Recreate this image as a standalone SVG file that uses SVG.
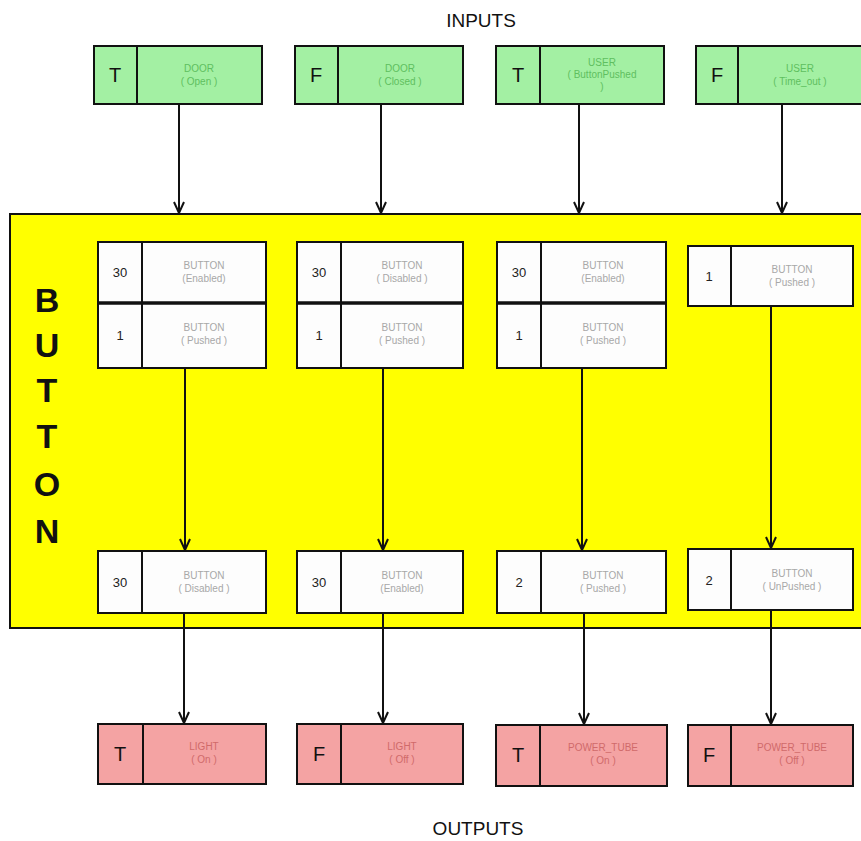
<svg xmlns="http://www.w3.org/2000/svg" width="861" height="841" viewBox="0 0 861 841">
  <style>
    .box { stroke: #111; stroke-width: 2; }
    .in { fill: #a3f0a3; }
    .out { fill: #f4a3a3; }
    .st { fill: #fdfdfd; }
    .div { stroke: #111; stroke-width: 2; }
    .sep { stroke: #111; stroke-width: 3.5; }
    .flag { font-family: "Liberation Sans", Arial, sans-serif; font-size: 20px; text-anchor: middle; fill: #111; }
    .num { font-family: "Liberation Sans", Arial, sans-serif; font-size: 13px; text-anchor: middle; fill: #222; }
    .lbl { font-family: "Liberation Sans", Arial, sans-serif; font-size: 10px; text-anchor: middle; }
    .lin { fill: #5fbf5f; }
    .lst { fill: #a8a8a8; }
    .lout { fill: #d06a6a; }
    .title { font-family: "Liberation Sans", Arial, sans-serif; font-size: 19px; text-anchor: middle; fill: #111; }
    .big { font-family: "Liberation Sans", Arial, sans-serif; font-size: 34px; font-weight: bold; text-anchor: middle; fill: #111; }
    .wire { stroke: #111; stroke-width: 2; fill: none; marker-end: url(#arrow); }
  </style>
  <defs>
    <marker id="arrow" markerWidth="14" markerHeight="14" refX="12" refY="6" orient="auto" markerUnits="userSpaceOnUse">
      <path d="M1,1 L12,6 L1,11" fill="none" stroke="#111" stroke-width="2"/>
    </marker>
  </defs>
  <rect width="861" height="841" fill="#ffffff"/>

  <!-- titles -->
  <text class="title" x="481" y="27">INPUTS</text>
  <text class="title" x="478" y="835">OUTPUTS</text>

  <!-- machine area -->
  <g id="machine">
    <rect x="10" y="214" width="860" height="414" fill="#ffff00" stroke="#111" stroke-width="2"/>
    <text class="big" x="47" y="312">B</text>
    <text class="big" x="47" y="357">U</text>
    <text class="big" x="47" y="402">T</text>
    <text class="big" x="47" y="448">T</text>
    <text class="big" x="47" y="496">O</text>
    <text class="big" x="47" y="543">N</text>
  </g>

  <!-- inputs -->
  <g id="in-door-open">
    <rect class="box in" x="94" y="46" width="168" height="58"/>
    <line class="div" x1="137" y1="46" x2="137" y2="104"/>
    <text class="flag" x="115" y="82">T</text>
    <text class="lbl lin" x="199" y="72">DOOR</text>
    <text class="lbl lin" x="199" y="85">( Open )</text>
  </g>
  <g id="in-door-closed">
    <rect class="box in" x="295" y="46" width="168" height="58"/>
    <line class="div" x1="338" y1="46" x2="338" y2="104"/>
    <text class="flag" x="316" y="82">F</text>
    <text class="lbl lin" x="400" y="72">DOOR</text>
    <text class="lbl lin" x="400" y="85">( Closed )</text>
  </g>
  <g id="in-user-pushed">
    <rect class="box in" x="496" y="46" width="168" height="58"/>
    <line class="div" x1="540" y1="46" x2="540" y2="104"/>
    <text class="flag" x="518" y="82">T</text>
    <text class="lbl lin" x="602" y="66">USER</text>
    <text class="lbl lin" x="602" y="78">( ButtonPushed</text>
    <text class="lbl lin" x="602" y="90">)</text>
  </g>
  <g id="in-user-timeout">
    <rect class="box in" x="696" y="46" width="168" height="58"/>
    <line class="div" x1="738" y1="46" x2="738" y2="104"/>
    <text class="flag" x="717" y="82">F</text>
    <text class="lbl lin" x="800" y="72">USER</text>
    <text class="lbl lin" x="800" y="85">( Time_out )</text>
  </g>

  <!-- upper states -->
  <g id="st-a">
    <rect class="box st" x="98" y="242" width="168" height="126"/>
    <line class="div" x1="142" y1="242" x2="142" y2="368"/>
    <line class="sep" x1="98" y1="303" x2="266" y2="303"/>
    <text class="num" x="120" y="277">30</text>
    <text class="lbl lst" x="204" y="269">BUTTON</text>
    <text class="lbl lst" x="204" y="282">(Enabled)</text>
    <text class="num" x="120" y="340">1</text>
    <text class="lbl lst" x="204" y="331">BUTTON</text>
    <text class="lbl lst" x="204" y="344">( Pushed )</text>
  </g>
  <g id="st-b">
    <rect class="box st" x="297" y="242" width="166" height="126"/>
    <line class="div" x1="341" y1="242" x2="341" y2="368"/>
    <line class="sep" x1="297" y1="303" x2="463" y2="303"/>
    <text class="num" x="319" y="277">30</text>
    <text class="lbl lst" x="402" y="269">BUTTON</text>
    <text class="lbl lst" x="402" y="282">( Disabled )</text>
    <text class="num" x="319" y="340">1</text>
    <text class="lbl lst" x="402" y="331">BUTTON</text>
    <text class="lbl lst" x="402" y="344">( Pushed )</text>
  </g>
  <g id="st-c">
    <rect class="box st" x="497" y="242" width="169" height="126"/>
    <line class="div" x1="541" y1="242" x2="541" y2="368"/>
    <line class="sep" x1="497" y1="303" x2="666" y2="303"/>
    <text class="num" x="519" y="277">30</text>
    <text class="lbl lst" x="603" y="269">BUTTON</text>
    <text class="lbl lst" x="603" y="282">(Enabled)</text>
    <text class="num" x="519" y="340">1</text>
    <text class="lbl lst" x="603" y="331">BUTTON</text>
    <text class="lbl lst" x="603" y="344">( Pushed )</text>
  </g>
  <g id="st-d">
    <rect class="box st" x="688" y="246" width="165" height="60"/>
    <line class="div" x1="731" y1="246" x2="731" y2="306"/>
    <text class="num" x="709" y="281">1</text>
    <text class="lbl lst" x="792" y="273">BUTTON</text>
    <text class="lbl lst" x="792" y="286">( Pushed )</text>
  </g>

  <!-- lower states -->
  <g id="st-e">
    <rect class="box st" x="98" y="551" width="168" height="62"/>
    <line class="div" x1="142" y1="551" x2="142" y2="613"/>
    <text class="num" x="120" y="587">30</text>
    <text class="lbl lst" x="204" y="579">BUTTON</text>
    <text class="lbl lst" x="204" y="592">( Disabled )</text>
  </g>
  <g id="st-f">
    <rect class="box st" x="297" y="551" width="166" height="62"/>
    <line class="div" x1="341" y1="551" x2="341" y2="613"/>
    <text class="num" x="319" y="587">30</text>
    <text class="lbl lst" x="402" y="579">BUTTON</text>
    <text class="lbl lst" x="402" y="592">(Enabled)</text>
  </g>
  <g id="st-g">
    <rect class="box st" x="497" y="551" width="169" height="62"/>
    <line class="div" x1="541" y1="551" x2="541" y2="613"/>
    <text class="num" x="519" y="587">2</text>
    <text class="lbl lst" x="603" y="579">BUTTON</text>
    <text class="lbl lst" x="603" y="592">( Pushed )</text>
  </g>
  <g id="st-h">
    <rect class="box st" x="688" y="549" width="165" height="61"/>
    <line class="div" x1="731" y1="549" x2="731" y2="610"/>
    <text class="num" x="709" y="585">2</text>
    <text class="lbl lst" x="792" y="577">BUTTON</text>
    <text class="lbl lst" x="792" y="590">( UnPushed )</text>
  </g>

  <!-- outputs -->
  <g id="out-light-on">
    <rect class="box out" x="98" y="724" width="168" height="60"/>
    <line class="div" x1="143" y1="724" x2="143" y2="784"/>
    <text class="flag" x="120" y="761">T</text>
    <text class="lbl lout" x="204" y="750">LIGHT</text>
    <text class="lbl lout" x="204" y="763">( On )</text>
  </g>
  <g id="out-light-off">
    <rect class="box out" x="297" y="724" width="166" height="60"/>
    <line class="div" x1="341" y1="724" x2="341" y2="784"/>
    <text class="flag" x="319" y="761">F</text>
    <text class="lbl lout" x="402" y="750">LIGHT</text>
    <text class="lbl lout" x="402" y="763">( Off )</text>
  </g>
  <g id="out-tube-on">
    <rect class="box out" x="496" y="725" width="171" height="61"/>
    <line class="div" x1="540" y1="725" x2="540" y2="786"/>
    <text class="flag" x="518" y="762">T</text>
    <text class="lbl lout" x="603" y="751">POWER_TUBE</text>
    <text class="lbl lout" x="603" y="764">( On )</text>
  </g>
  <g id="out-tube-off">
    <rect class="box out" x="688" y="725" width="165" height="61"/>
    <line class="div" x1="731" y1="725" x2="731" y2="786"/>
    <text class="flag" x="709" y="762">F</text>
    <text class="lbl lout" x="792" y="751">POWER_TUBE</text>
    <text class="lbl lout" x="792" y="764">( Off )</text>
  </g>

  <!-- transitions -->
  <g id="connectors">
    <line class="wire" x1="179" y1="105" x2="179" y2="213"/>
    <line class="wire" x1="381" y1="105" x2="381" y2="213"/>
    <line class="wire" x1="579" y1="105" x2="579" y2="213"/>
    <line class="wire" x1="782" y1="105" x2="782" y2="213"/>

    <line class="wire" x1="185" y1="369" x2="185" y2="550"/>
    <line class="wire" x1="383" y1="369" x2="383" y2="550"/>
    <line class="wire" x1="582" y1="369" x2="582" y2="550"/>
    <line class="wire" x1="771" y1="307" x2="771" y2="548"/>

    <line class="wire" x1="184" y1="614" x2="184" y2="723"/>
    <line class="wire" x1="383" y1="614" x2="383" y2="723"/>
    <line class="wire" x1="584" y1="614" x2="584" y2="724"/>
    <line class="wire" x1="771" y1="611" x2="771" y2="724"/>
  </g>
</svg>
